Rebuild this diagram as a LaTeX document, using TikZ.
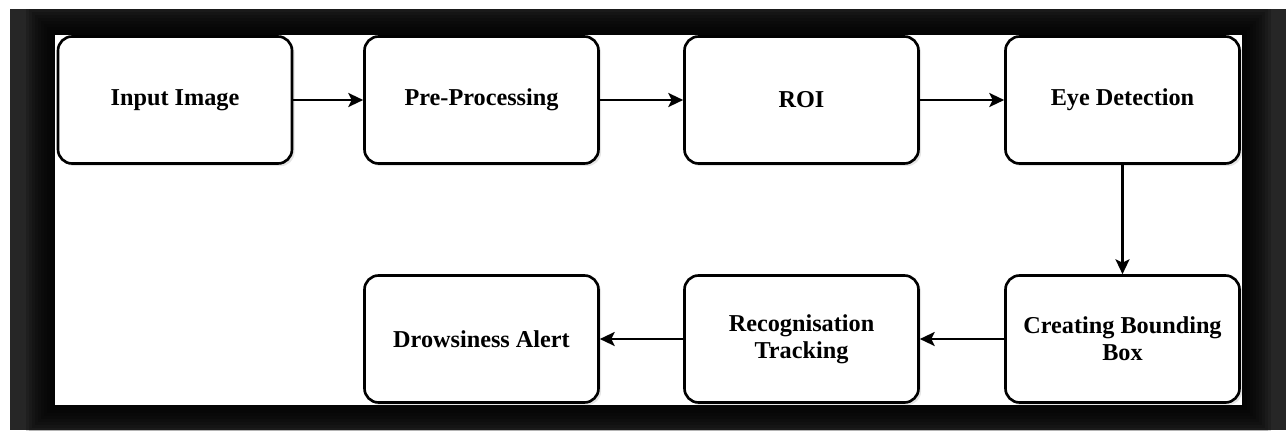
\documentclass[tikz,border=0pt]{standalone}
\usepackage{fontspec}
\setmainfont{Liberation Serif}
\usetikzlibrary{arrows.meta,shadows}

\newcommand*\boxwidth{234}
\newcommand*\boxheight{127}
\definecolor{framegray}{HTML}{262626}
\tikzset{stage/.style={
    draw,
    line width=1.5pt,
    font=\bfseries\fontsize{13.8}{15.5}\selectfont,
    rectangle,
    rounded corners=8pt,
    fill=white,
    drop shadow={opacity=0.2,shadow xshift=1.5pt,shadow yshift=-1.5pt},
    minimum width=\boxwidth*0.02cm,
    minimum height=\boxheight*0.02cm,
    inner sep=0pt,
    align=center
},
flow/.style={
    line width=1.4pt,
    -{Stealth[length=8.5pt,width=8pt,inset=2pt]}
}}

\begin{document}
\begin{tikzpicture}[x=0.02cm,y=-0.02cm]

    % The dark frame round the white sheet, with a soft black glow.
    \useasboundingbox (0,0) rectangle (1286,430);
    \fill[white] (0,0) rectangle (1286,430);
    \begin{scope}
        \clip (10,9) rectangle (1286,430);
        \fill[framegray] (10,9) rectangle (1286,430);
        \foreach \d in {2,5,...,29}
            \fill[black,opacity=0.16] (55-\d,35-\d) rectangle (1242+\d,405+\d);
    \end{scope}
    \fill[white] (55,35) rectangle (1242,405);

    % First row, left to right.
    \node[stage] (input) at (175,100) {Input Image};
    \node[stage] (pre) at (481.5,100) {Pre-Processing};
    \node[stage] (roi) at (801.5,100) {ROI};
    \node[stage] (eye) at (1122.5,100) {Eye Detection};

    % Second row, right to left.
    \node[stage] (bbox) at (1122.5,339) {Creating Bounding\\Box};
    \node[stage] (track) at (801.5,339) {Recognisation\\Tracking};
    \node[stage] (alert) at (481.5,339) {Drowsiness Alert};

    % The arrows between the stages.
    \draw[flow] (input) -- (pre);
    \draw[flow] (pre) -- (roi);
    \draw[flow] (roi) -- (eye);
    \draw[flow] (eye) -- (bbox);
    \draw[flow] (bbox) -- (track);
    \draw[flow] (track) -- (alert);

\end{tikzpicture}
\end{document}
